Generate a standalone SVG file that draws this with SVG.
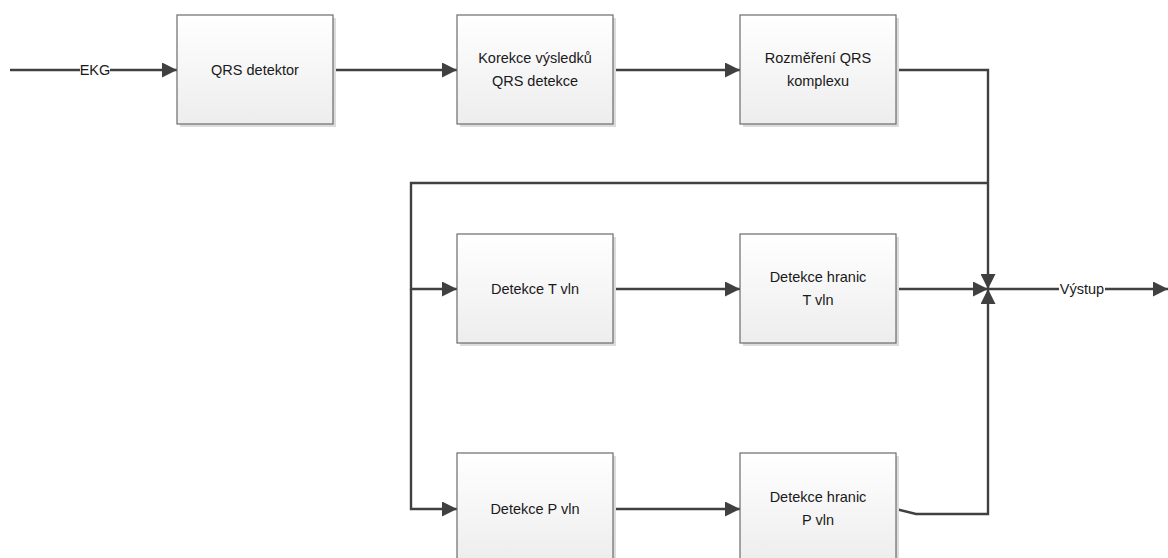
<svg xmlns="http://www.w3.org/2000/svg" width="1168" height="558" viewBox="0 0 1168 558">
<style>
.box{fill:url(#g);stroke:#6b6b6b;stroke-width:1.2}
.sh{fill:#dcdcdc}
.t{font-family:"Liberation Sans",Arial,sans-serif;font-size:14.5px;fill:#1a1a1a;text-anchor:middle}
.c{fill:none;stroke:#404040;stroke-width:2.4}
.lbl{font-family:"Liberation Sans",Arial,sans-serif;font-size:14.5px;fill:#1a1a1a;text-anchor:middle}
</style>
<defs>
<linearGradient id="g" x1="0" y1="0" x2="0" y2="1">
<stop offset="0" stop-color="#ffffff"/>
<stop offset="1" stop-color="#ededed"/>
</linearGradient>
<marker id="a" markerUnits="userSpaceOnUse" markerWidth="15" markerHeight="15" viewBox="0 0 15 15" refX="15" refY="7.5" orient="auto">
<path d="M0,0 L15,7.5 L0,15 z" fill="#404040"/>
</marker>
</defs>
<rect width="1168" height="558" fill="#ffffff"/>
<g id="connectors">
<path class="c" d="M10,70 H177" marker-end="url(#a)"/>
<path class="c" d="M333,70 H457" marker-end="url(#a)"/>
<path class="c" d="M613,70 H740" marker-end="url(#a)"/>
<path class="c" d="M896,70 H988 V289" marker-end="url(#a)"/>
<path class="c" d="M988,183 H411 V289 H457" marker-end="url(#a)"/>
<path class="c" d="M411,289 V509 H457" marker-end="url(#a)"/>
<path class="c" d="M613,289 H740" marker-end="url(#a)"/>
<path class="c" d="M896,289 H988" marker-end="url(#a)"/>
<path class="c" d="M613,509 H740" marker-end="url(#a)"/>
<path class="c" d="M896,509 L916,514 H988 V289" marker-end="url(#a)"/>
<path class="c" d="M988,289 H1168" marker-end="url(#a)"/>
<rect x="80" y="60" width="30" height="20" fill="#ffffff"/>
<text class="lbl" x="95" y="75">EKG</text>
<rect x="1059" y="279" width="46" height="20" fill="#ffffff"/>
<text class="lbl" x="1082" y="294">Výstup</text>
</g>
<g id="n1">
<rect class="sh" x="180" y="18" width="156" height="109"/>
<rect class="box" x="177" y="15" width="156" height="109"/>
<text class="t" x="255" y="75">QRS detektor</text>
</g>
<g id="n2">
<rect class="sh" x="460" y="18" width="156" height="109"/>
<rect class="box" x="457" y="15" width="156" height="109"/>
<text class="t" x="535" y="63">Korekce výsledků</text>
<text class="t" x="535" y="86">QRS detekce</text>
</g>
<g id="n3">
<rect class="sh" x="743" y="18" width="156" height="109"/>
<rect class="box" x="740" y="15" width="156" height="109"/>
<text class="t" x="818" y="63">Rozměření QRS</text>
<text class="t" x="818" y="86">komplexu</text>
</g>
<g id="n4">
<rect class="sh" x="460" y="237" width="156" height="109"/>
<rect class="box" x="457" y="234" width="156" height="109"/>
<text class="t" x="535" y="294">Detekce T vln</text>
</g>
<g id="n5">
<rect class="sh" x="743" y="237" width="156" height="109"/>
<rect class="box" x="740" y="234" width="156" height="109"/>
<text class="t" x="818" y="282">Detekce hranic</text>
<text class="t" x="818" y="305">T vln</text>
</g>
<g id="n6">
<rect class="sh" x="460" y="456" width="156" height="109"/>
<rect class="box" x="457" y="453" width="156" height="109"/>
<text class="t" x="535" y="514">Detekce P vln</text>
</g>
<g id="n7">
<rect class="sh" x="743" y="456" width="156" height="109"/>
<rect class="box" x="740" y="453" width="156" height="109"/>
<text class="t" x="818" y="502">Detekce hranic</text>
<text class="t" x="818" y="525">P vln</text>
</g>
</svg>
